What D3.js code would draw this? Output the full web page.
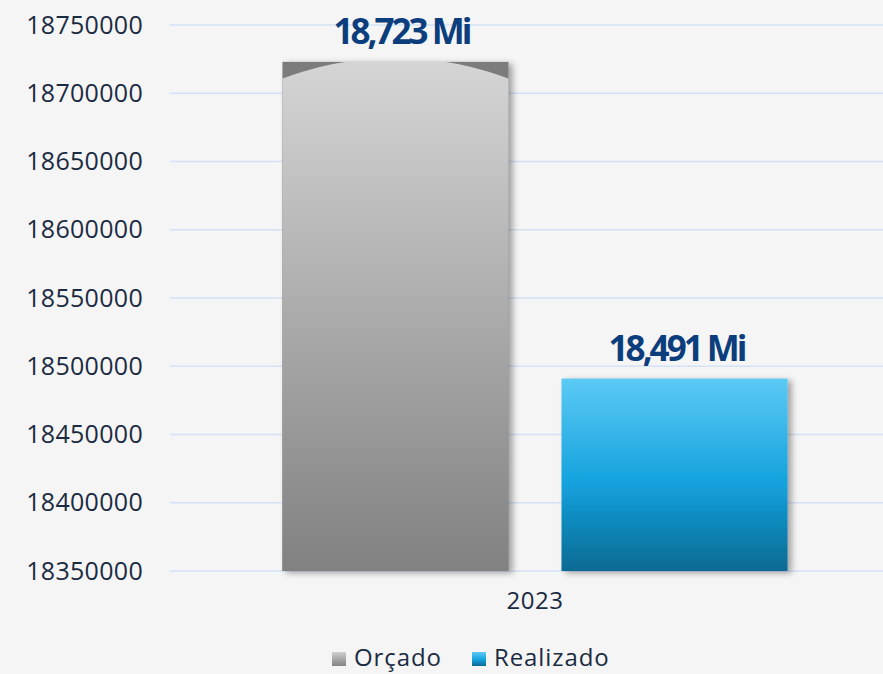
<!DOCTYPE html>
<html>
<head>
<meta charset="utf-8">
<script src="https://cdn.jsdelivr.net/npm/d3@7"></script>
<style>
  body { margin: 0; background: #f5f5f5; }
  text { font-family: "Open Sans", Roboto, sans-serif; }
</style>
</head>
<body>
<div id="container"></div>
<script>
// data
const categories = ["2023"];
const series = ["Orçado", "Realizado"];
const values = [18723000, 18491000];
const valueLabels = ["18,723 Mi", "18,491 Mi"];
const yTicks = [18350000, 18400000, 18450000, 18500000, 18550000, 18600000, 18650000, 18700000, 18750000];

// constants
const WIDTH = 883;
const HEIGHT = 674;
const LEFT = 170;
const RIGHT = 900;
const TOP = 25;
const BOTTOM = 571;

const svg = d3.select("#container")
    .append("svg")
    .attr("width", WIDTH)
    .attr("height", HEIGHT);

svg.append("rect")
    .attr("width", WIDTH)
    .attr("height", HEIGHT)
    .attr("fill", "#f5f5f5");

const defs = svg.append("defs");

// shadow for bars
const shadow = defs.append("filter")
    .attr("id", "shadow")
    .attr("x", "-10%").attr("y", "-10%")
    .attr("width", "130%").attr("height", "130%");
shadow.append("feDropShadow")
    .attr("dx", 4).attr("dy", 2)
    .attr("stdDeviation", 3)
    .attr("flood-color", "#000")
    .attr("flood-opacity", 0.35);

const y = d3.scaleLinear()
    .domain([yTicks[0], yTicks[yTicks.length - 1]])
    .range([BOTTOM, TOP]);

const x0 = d3.scaleBand()
    .domain(categories)
    .range([LEFT, RIGHT]);

const x1 = d3.scaleBand()
    .domain(series)
    .range([0, x0.bandwidth()])
    .paddingInner(0.19)
    .paddingOuter(0.403);

// gradients
const gradGray = defs.append("linearGradient")
    .attr("id", "gradGray")
    .attr("gradientUnits", "userSpaceOnUse")
    .attr("x1", 0).attr("x2", 0)
    .attr("y1", y(values[0])).attr("y2", BOTTOM);
gradGray.append("stop").attr("offset", "0%").attr("stop-color", "#d5d5d5");
gradGray.append("stop").attr("offset", "100%").attr("stop-color", "#818181");

const gradBlue = defs.append("linearGradient")
    .attr("id", "gradBlue")
    .attr("x1", 0).attr("x2", 0).attr("y1", 0).attr("y2", 1);
gradBlue.append("stop").attr("offset", "0%").attr("stop-color", "#5ccaf5");
gradBlue.append("stop").attr("offset", "55%").attr("stop-color", "#13a1dd");
gradBlue.append("stop").attr("offset", "100%").attr("stop-color", "#0b6a92");

const swGray = defs.append("linearGradient")
    .attr("id", "swGray")
    .attr("x1", 0).attr("x2", 0).attr("y1", 0).attr("y2", 1);
swGray.append("stop").attr("offset", "0%").attr("stop-color", "#cfcfcf");
swGray.append("stop").attr("offset", "100%").attr("stop-color", "#838383");

// gridlines
svg.append("g")
    .selectAll("line")
    .data(yTicks)
    .enter()
    .append("line")
    .attr("x1", LEFT)
    .attr("x2", WIDTH)
    .attr("y1", d => y(d))
    .attr("y2", d => y(d))
    .attr("stroke", "#d3e2f4")
    .attr("stroke-width", 1.5);

// y axis labels
const leftAxis = d3.axisLeft(y)
    .tickValues(yTicks)
    .tickSize(0)
    .tickPadding(0)
    .tickFormat(d3.format("d"));

const yAxis = svg.append("g")
    .attr("transform", "translate(143,0)")
    .call(leftAxis);
yAxis.select(".domain").remove();
yAxis.selectAll("text")
    .attr("font-family", "'Open Sans', sans-serif")
    .attr("font-size", 25)
    .attr("letter-spacing", 0.3)
    .attr("fill", "#1b2b42");

// x axis label
const bottomAxis = d3.axisBottom(x0).tickSize(0).tickPadding(0);
const xAxis = svg.append("g")
    .attr("transform", "translate(0," + (BOTTOM + 21) + ")")
    .call(bottomAxis);
xAxis.select(".domain").remove();
xAxis.selectAll("text")
    .attr("font-family", "'Open Sans', sans-serif")
    .attr("font-size", 24)
    .attr("letter-spacing", 0.5)
    .attr("fill", "#1b2b42");

// bars
const bars = svg.append("g");
series.forEach((s, i) => {
    const bx = x0(categories[0]) + x1(s);
    const bw = x1.bandwidth();
    const by = y(values[i]);
    const bh = BOTTOM - by;
    const g = bars.append("g").attr("filter", "url(#shadow)");
    if (i === 0) {
        defs.append("clipPath")
            .attr("id", "clip0")
            .append("rect")
            .attr("x", bx).attr("y", by)
            .attr("width", bw).attr("height", bh);
        g.append("rect")
            .attr("x", bx).attr("y", by)
            .attr("width", bw).attr("height", bh)
            .attr("fill", "#7c7c7c");
        // dome shaped highlight
        const r = 320;
        g.append("circle")
            .attr("clip-path", "url(#clip0)")
            .attr("cx", bx + bw / 2)
            .attr("cy", by - 4 + r)
            .attr("r", r)
            .attr("fill", "url(#gradGray)");
    } else {
        g.append("rect")
            .attr("x", bx).attr("y", by)
            .attr("width", bw).attr("height", bh)
            .attr("fill", "url(#gradBlue)");
    }
    // value label
    svg.append("text")
        .attr("x", bx + bw / 2 + (i === 0 ? 6 : 2))
        .attr("y", by - 18)
        .attr("text-anchor", "middle")
        .attr("font-family", "Roboto, sans-serif")
        .attr("font-weight", "bold")
        .attr("font-size", 35)
        .attr("letter-spacing", -3)
        .attr("fill", "#0c3e7d")
        .text(valueLabels[i]);
});

// legend
const legendItems = [
    { name: series[0], fill: "url(#swGray)", x: 332 },
    { name: series[1], fill: "url(#gradBlue)", x: 472 }
];
const legend = svg.append("g");
legendItems.forEach(d => {
    legend.append("rect")
        .attr("x", d.x).attr("y", 652)
        .attr("width", 14).attr("height", 14)
        .attr("fill", d.fill);
    legend.append("text")
        .attr("x", d.x + 22)
        .attr("y", 666)
        .attr("font-family", "'Open Sans', sans-serif")
        .attr("font-size", 24)
        .attr("letter-spacing", 0.9)
        .attr("fill", "#1b2b42")
        .text(d.name);
});
</script>
</body>
</html>
